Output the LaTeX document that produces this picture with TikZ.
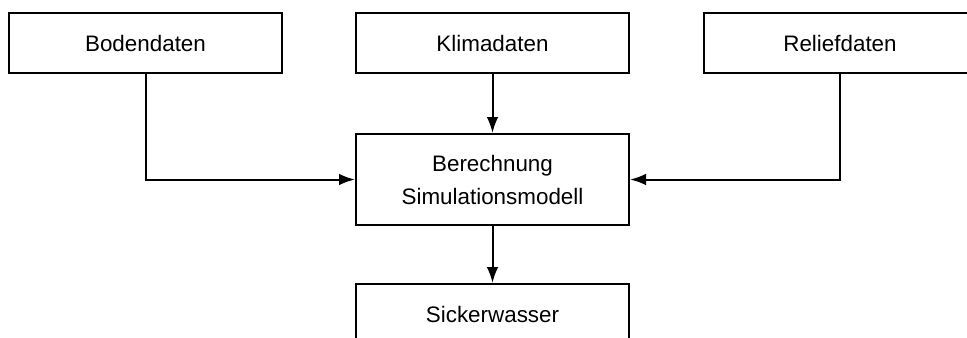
\documentclass[tikz,border=0pt]{standalone}
\usepackage{fontspec}
\setmainfont{Liberation Sans}
\usetikzlibrary{arrows.meta}

\begin{document}
\begin{tikzpicture}[x=0.5pt, y=-0.5pt, line width=1pt,%
  kasten/.style={draw, minimum width=136.5pt, minimum height=30pt,
    inner sep=0pt, align=center, font=\fontsize{11.2}{16.5}\selectfont},
  >={Latex[length=8pt,width=5.8pt]}]
  \useasboundingbox (0,0) rectangle (967,337);
  \clip (0,0) rectangle (967,337);
  \node[kasten] (boden) at (145.5,43) {Bodendaten};
  \node[kasten] (klima) at (492.5,43) {Klimadaten};
  \node[kasten] (relief) at (840,43) {Reliefdaten};
  \node[kasten, minimum height=45.5pt] (modell) at (492.5,179.5) {Berechnung\\Simulationsmodell};
  \node[kasten] (sicker) at (492.5,314) {Sickerwasser};
  \draw[->] (boden) |- (modell);
  \draw[->] (relief) |- (modell);
  \draw[->] (klima) -- (modell);
  \draw[->] (modell) -- (sicker);
\end{tikzpicture}
\end{document}
